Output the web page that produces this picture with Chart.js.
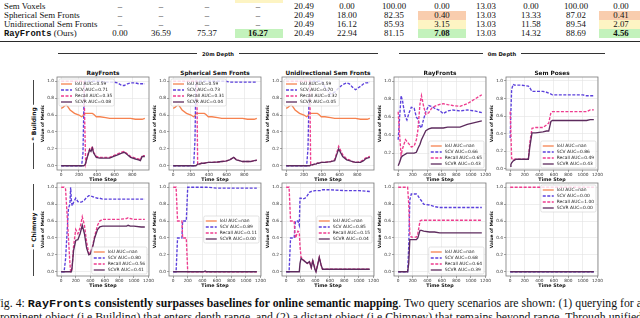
<!DOCTYPE html>
<html>
<head>
<meta charset="utf-8">
<script src="https://cdn.jsdelivr.net/npm/chart.js@4.4.1/dist/chart.umd.min.js"></script>
<style>
  html, body { margin: 0; padding: 0; background: #fff; }
  #page { position: relative; width: 640px; height: 318px; overflow: hidden; font-family: "Liberation Serif", serif; color: #111; }
  .abs { position: absolute; white-space: nowrap; }
  .tcell { position: absolute; font-size: 8.8px; line-height: 9px; transform: translateX(-50%); white-space: nowrap; }
  .tlabel { position: absolute; font-size: 8.8px; line-height: 9px; left: 4px; white-space: nowrap; }
  .mono { font-family: "Liberation Mono", monospace; font-weight: bold; }
  .fill { position: absolute; height: 9px; }
  .ptitle { position: absolute; font: bold 5.8px "DejaVu Sans", sans-serif; transform: translate(-50%, -50%); white-space: nowrap; }
  .depth { position: absolute; display: flex; align-items: center; height: 8px; }
  .depth .ln { flex: 1; height: 0.8px; background: #333; }
  .depth span { font: bold 5.2px "DejaVu Sans", sans-serif; padding: 0 5px; }
  .rowlab { position: absolute; font: bold 6px "DejaVu Sans", sans-serif; background: #fff; padding: 0 2px; transform: translate(-50%, -50%) rotate(-90deg); white-space: nowrap; }
  .vline { position: absolute; width: 0.9px; background: #444; }
  .cap { position: absolute; left: -6px; font-size: 12px; line-height: 13.5px; white-space: nowrap; }
  canvas { position: absolute; }
</style>
</head>
<body>
<div id="page"></div>
<script>
// ---------- table values ----------
const tableLabels = ['Sem Voxels', 'Spherical Sem Fronts', 'Unidirectional Sem Fronts', 'RayFronts'];
const rowSemVoxels = ['–', '–', '–', '–', '20.49', '0.00', '100.00', '0.00', '13.03', '0.00', '100.00', '0.00'];
const rowSpherical = ['–', '–', '–', '–', '20.49', '18.00', '82.35', '0.40', '13.03', '13.33', '87.02', '0.41'];
const rowUnidir = ['–', '–', '–', '–', '20.49', '16.12', '85.93', '3.15', '13.03', '11.58', '89.54', '2.07'];
const rowRayFronts = ['0.00', '36.59', '75.37', '16.27', '20.49', '22.94', '81.15', '7.08', '13.03', '14.32', '88.69', '4.56'];

// ---------- chart data (time steps + metric values) ----------
const ticks20 = [0, 200, 400, 600, 800];
const ticks0 = [0, 200, 400, 600, 800, 1000, 1200];
const yTicks = [0, 0.2, 0.4, 0.6, 0.8, 1.0];
const yTicksD = [0.2, 0.4, 0.6, 0.8, 1.0];

// 20m depth, Building
const t20 = [0, 20, 40, 60, 80, 100, 150, 200, 230, 245, 255, 265, 275, 290, 320, 335, 350, 365, 395, 435, 500, 545, 590, 635, 680, 710, 745, 780, 835, 870, 890, 910, 940];
const iou20 = [0.68, 0.69, 0.71, 0.72, 0.69, 0.66, 0.62, 0.60, 0.58, 0.59, 0.62, 0.62, 0.62, 0.62, 0.62, 0.62, 0.62, 0.61, 0.58, 0.58, 0.57, 0.56, 0.56, 0.56, 0.56, 0.56, 0.56, 0.56, 0.55, 0.55, 0.55, 0.55, 0.56];

const scvA = [0, 0, 0, 0, 0, 0, 0, 0, 0, 0.15, 0.7, 1.0, 1.0, 1.0, 1.0, 1.0, 1.0, 1.0, 1.0, 1.0, 0.99, 0.99, 0.99, 0.98, 0.95, 0.95, 0.97, 0.98, 0.98, 0.97, 0.97, 0.97, 0.97];
const recallA = [1, 1, 1, 1, 1, 1, 1, 1, 1, 1, 1, 0.5, 0.03, 0.1, 0.2, 0.19, 0.23, 0.16, 0.11, 0.1, 0.1, 0.1, 0.12, 0.14, 0.16, 0.17, 0.14, 0.11, 0.09, 0.08, 0.07, 0.12, 0.12];
const scvrA = [0, 0, 0, 0, 0, 0, 0, 0, 0, 0, 0, 0.01, 0.03, 0.09, 0.19, 0.17, 0.21, 0.15, 0.1, 0.09, 0.09, 0.09, 0.11, 0.13, 0.15, 0.16, 0.13, 0.1, 0.08, 0.07, 0.06, 0.11, 0.11];

const scvB = [0, 0, 0, 0, 0, 0, 0, 0, 0, 0.3, 1.0, 1.0, 1.0, 1.0, 1.0, 1.0, 1.0, 1.0, 1.0, 1.0, 1.0, 1.0, 1.0, 0.99, 0.99, 0.99, 0.99, 0.99, 0.99, 0.99, 0.99, 0.99, 0.99];
const recallB = [1, 1, 1, 1, 1, 1, 1, 1, 1, 1, 1, 1, 0.02, 0.02, 0.03, 0.03, 0.03, 0.035, 0.04, 0.04, 0.045, 0.05, 0.055, 0.07, 0.1, 0.07, 0.06, 0.05, 0.05, 0.05, 0.055, 0.06, 0.065];
const scvrB = [0, 0, 0, 0, 0, 0, 0, 0, 0, 0, 0, 0.01, 0.02, 0.02, 0.03, 0.03, 0.03, 0.035, 0.04, 0.04, 0.045, 0.05, 0.055, 0.07, 0.1, 0.07, 0.06, 0.05, 0.05, 0.05, 0.055, 0.06, 0.065];

const scvC = [0, 0, 0, 0, 0, 0, 0, 0, 0, 0.2, 0.7, 1.0, 1.0, 1.0, 1.0, 1.0, 1.0, 1.0, 1.0, 0.93, 0.85, 0.87, 0.92, 0.96, 0.98, 0.97, 0.93, 0.9, 0.94, 0.97, 0.98, 0.98, 0.99];
const recallC = [1, 1, 1, 1, 1, 1, 1, 1, 1, 1, 1, 1, 0.02, 0.01, 0.02, 0.02, 0.03, 0.03, 0.04, 0.04, 0.05, 0.07, 0.23, 0.13, 0.08, 0.07, 0.05, 0.04, 0.05, 0.07, 0.09, 0.1, 0.11];
const scvrC = [0, 0, 0, 0, 0, 0, 0, 0, 0, 0, 0, 0, 0.01, 0.01, 0.02, 0.02, 0.03, 0.03, 0.04, 0.04, 0.05, 0.06, 0.2, 0.11, 0.07, 0.06, 0.05, 0.04, 0.04, 0.06, 0.08, 0.09, 0.1];

// 0m depth, Building
const tD = [0, 20, 40, 60, 80, 100, 120, 150, 180, 220, 250, 270, 300, 320, 350, 380, 420, 460, 500, 560, 620, 680, 750, 850, 950, 1050, 1150];
const scvD = [0.35, 0.6, 0.84, 0.78, 0.68, 0.6, 0.57, 0.65, 0.71, 0.7, 0.6, 0.58, 0.5, 0.48, 0.58, 0.66, 0.73, 0.72, 0.7, 0.68, 0.64, 0.67, 0.68, 0.67, 0.68, 0.67, 0.65];
const recallD = [0.66, 0.4, 0.18, 0.25, 0.3, 0.35, 0.33, 0.3, 0.27, 0.28, 0.35, 0.45, 0.75, 0.84, 0.72, 0.63, 0.65, 0.7, 0.72, 0.74, 0.75, 0.74, 0.73, 0.72, 0.75, 0.8, 0.85];
const scvrD = [0.06, 0.1, 0.15, 0.17, 0.18, 0.19, 0.2, 0.2, 0.2, 0.2, 0.21, 0.25, 0.3, 0.35, 0.4, 0.45, 0.47, 0.48, 0.48, 0.48, 0.48, 0.49, 0.49, 0.49, 0.52, 0.54, 0.56];

const tE = [0, 10, 20, 40, 60, 80, 150, 250, 270, 300, 350, 450, 500, 530, 560, 580, 700, 850, 1000, 1050, 1100, 1150];
const scvE = [0.35, 0.65, 0.9, 0.96, 0.95, 0.95, 0.95, 0.94, 0.92, 0.88, 0.88, 0.88, 0.87, 0.86, 0.85, 0.84, 0.84, 0.84, 0.84, 0.83, 0.83, 0.83];
const recallE = [0.65, 0.4, 0.12, 0.1, 0.11, 0.11, 0.11, 0.11, 0.3, 0.46, 0.47, 0.47, 0.5, 0.52, 0.64, 0.65, 0.65, 0.65, 0.65, 0.65, 0.67, 0.67];
const scvrE = [0.03, 0.05, 0.07, 0.09, 0.1, 0.11, 0.11, 0.11, 0.25, 0.41, 0.41, 0.42, 0.43, 0.43, 0.54, 0.55, 0.55, 0.55, 0.55, 0.55, 0.56, 0.56];

// Chimney
const tF = [0, 40, 60, 80, 100, 120, 130, 140, 150, 170, 200, 230, 260, 290, 320, 350, 380, 400, 430, 460, 500, 530, 570, 600, 700, 800, 900, 920, 950, 1000, 1100, 1150];
const scvF = [0, 0, 0.15, 0.45, 0.75, 0.8, 1.0, 0.85, 0.78, 0.82, 0.87, 0.83, 0.82, 0.83, 0.85, 0.88, 0.9, 0.9, 0.89, 0.88, 0.87, 0.87, 0.86, 0.86, 0.86, 0.86, 0.86, 0.86, 0.86, 0.86, 0.86, 0.86];
const recallF = [1, 1, 0.98, 0.7, 0.4, 0.1, 0, 0, 0.05, 0.3, 0.5, 0.45, 0.52, 0.65, 0.55, 0.35, 0.22, 0.22, 0.3, 0.42, 0.55, 0.6, 0.62, 0.62, 0.62, 0.62, 0.63, 0.64, 0.63, 0.62, 0.62, 0.62];
const scvrF = [0, 0, 0, 0, 0, 0, 0, 0, 0.05, 0.25, 0.37, 0.38, 0.45, 0.55, 0.45, 0.28, 0.2, 0.21, 0.28, 0.4, 0.5, 0.53, 0.54, 0.54, 0.54, 0.54, 0.54, 0.55, 0.54, 0.54, 0.53, 0.53];

const tG = [0, 40, 60, 70, 120, 125, 130, 180, 190, 200, 210, 300, 420, 440, 460, 600, 800, 1000, 1150];
const scvG = [0, 0, 0.4, 0.4, 0.4, 0.5, 0.6, 0.6, 0.8, 1.0, 1.0, 1.0, 1.0, 1.0, 1.0, 0.99, 0.99, 0.99, 0.99];
const recallG = [1, 1, 0.6, 0.6, 0.6, 0.5, 0.4, 0.4, 0.2, 0, 0, 0, 0, 0, 0, 0, 0, 0, 0];
const scvrG = [0, 0, 0, 0, 0, 0, 0, 0, 0, 0, 0, 0, 0, 0.01, 0, 0, 0, 0, 0];

const tH = [0, 40, 60, 110, 120, 130, 160, 180, 190, 205, 230, 260, 290, 320, 345, 365, 395, 410, 430, 455, 480, 500, 600, 800, 1000, 1150];
const scvH = [0, 0, 0.4, 0.4, 0.55, 0.6, 0.6, 0.55, 0.87, 0.87, 0.86, 0.87, 0.9, 0.94, 0.95, 0.95, 0.96, 0.96, 0.96, 0.96, 0.96, 0.97, 0.97, 0.96, 0.96, 0.95];
const recallH = [1, 1, 0.6, 0.6, 0.45, 0.4, 0.48, 0.47, 0.3, 0.17, 0.15, 0.12, 0.1, 0.12, 0.05, 0.14, 0.04, 0.01, 0.08, 0.17, 0.08, 0.03, 0.03, 0.03, 0.03, 0.03];
const scvrH = [0, 0, 0, 0, 0, 0, 0, 0, 0.1, 0.16, 0.14, 0.12, 0.1, 0.12, 0.05, 0.13, 0.03, 0, 0.07, 0.17, 0.08, 0.03, 0.03, 0.03, 0.03, 0.03];

const tI = [0, 130, 145, 160, 180, 250, 270, 300, 320, 350, 430, 500, 570, 700, 900, 1150];
const scvI = [0, 0, 0.3, 0.85, 0.92, 0.92, 0.9, 0.86, 0.84, 0.8, 0.79, 0.77, 0.76, 0.76, 0.76, 0.76];
const recallI = [1, 1, 0.8, 0.45, 0.41, 0.41, 0.45, 0.6, 0.61, 0.61, 0.61, 0.61, 0.61, 0.61, 0.61, 0.61];
const scvrI = [0, 0, 0.1, 0.38, 0.38, 0.38, 0.4, 0.49, 0.49, 0.48, 0.47, 0.47, 0.46, 0.46, 0.46, 0.46];

const tJ = [0, 1150];
const scvJ = [0, 0];
const recallJ = [1, 1];
const scvrJ = [0, 0];

// AUC legend values: IoU, SCV, Recall, SCVR
const aucA = ['0.59', '0.71', '0.35', '0.08'];
const aucB = ['0.59', '0.73', '0.31', '0.04'];
const aucC = ['0.59', '0.70', '0.32', '0.05'];
const aucD = ['nan', '0.66', '0.65', '0.43'];
const aucE = ['nan', '0.86', '0.49', '0.43'];
const aucF = ['nan', '0.80', '0.56', '0.41'];
const aucG = ['nan', '0.89', '0.11', '0.00'];
const aucH = ['nan', '0.85', '0.15', '0.04'];
const aucI = ['nan', '0.68', '0.64', '0.39'];
const aucJ = ['nan', '0.00', '1.00', '0.00'];

const panelTitles = ['RayFronts', 'Spherical Sem Fronts', 'Unidirectional Sem Fronts', 'RayFronts', 'Sem Poses'];

// ---------- layout ----------
const page = document.getElementById('page');
function el(tag, cls, css, html) {
  const e = document.createElement(tag);
  if (cls) e.className = cls;
  if (css) e.style.cssText = css;
  if (html !== undefined) e.innerHTML = html;
  page.appendChild(e);
  return e;
}

// table
const colX = [120, 161, 207, 258, 304, 347, 394, 442, 486, 531, 576, 621];
const boxX = { 3: [235, 283], 7: [418, 466], 11: [599, 640] };
const rowTop = [2, 11, 20, 29];
const salmon = '#f9cdae', yellow = '#fdf4c3', green = '#c3f2bc';
const rowFill = [{}, { 7: salmon, 11: salmon }, { 7: yellow, 11: yellow }, { 3: green, 7: green, 11: green }];
el('div', 'fill', `left:${boxX[3][0]}px;width:${boxX[3][1] - boxX[3][0]}px;top:-6px;background:${yellow}`);
[rowSemVoxels, rowSpherical, rowUnidir, rowRayFronts].forEach((vals, r) => {
  Object.keys(rowFill[r]).forEach(c => {
    const [a, b] = boxX[c];
    el('div', 'fill', `left:${a}px;width:${b - a}px;top:${rowTop[r]}px;background:${rowFill[r][c]}`);
  });
  const lab = r === 3 ? '<span class="mono">RayFronts</span> (Ours)' : tableLabels[r];
  el('div', 'tlabel', `top:${rowTop[r]}px`, lab);
  vals.forEach((v, c) => {
    const bold = r === 3 && boxX[c] ? 'font-weight:bold;' : '';
    el('div', 'tcell', `left:${colX[c]}px;top:${rowTop[r]}px;${bold}`, v);
  });
});
el('div', 'abs', 'left:0;top:40.5px;width:640px;height:1.8px;background:#2a2a2a');

// depth headers
el('div', 'depth', 'left:58px;width:320px;top:49.5px', '<div class="ln"></div><span>20m Depth</span><div class="ln"></div>');
el('div', 'depth', 'left:399px;width:206px;top:49.5px', '<div class="ln"></div><span>0m Depth</span><div class="ln"></div>');

// row labels
el('div', 'vline', 'left:32.5px;top:80px;height:89px');
el('div', 'rowlab', 'left:33px;top:124px', '❝ Building');
el('div', 'vline', 'left:32.5px;top:184px;height:92px');
el('div', 'rowlab', 'left:33px;top:230px', '❝ Chimney');

// caption
el('div', 'cap', 'top:297px', 'Fig. 4: <span class="mono">RayFronts</span> <b>consistently surpasses baselines for online semantic mapping</b>. Two query scenarios are shown: (1) querying for a');
el('div', 'cap', 'top:310.5px', 'prominent object (i.e Building) that enters depth range, and (2) a distant object (i.e Chimney) that remains beyond range. Through unified');

// ---------- charts ----------
const FONT = '"DejaVu Sans", sans-serif';
const COLORS = { iou: '#f6824f', scv: '#5b40dc', recall: '#ee3c8e', scvr: '#5d2b5d' };
const frameLeft = [57, 169, 282, 394, 506];
const frameTop = [77, 183];
const FW = 92, FH = 93, YW = 17, XH = 13, PT = 5, PR = 9;

const decor = {
  id: 'decor',
  afterDatasetsDraw(chart, args, opts) {
    const { ctx, chartArea: a } = chart;
    ctx.save();
    ctx.strokeStyle = '#7a7a7a';
    ctx.lineWidth = 0.8;
    ctx.strokeRect(a.left, a.top, a.right - a.left, a.bottom - a.top);

    const sets = chart.data.datasets;
    const fs = 4.4, rowH = 6, handle = 11, pad = 2;
    ctx.font = `${fs}px ${FONT}`;
    const textW = Math.max(...sets.map(d => ctx.measureText(d.label).width));
    const w = pad * 2 + handle + 3 + textW, h = pad * 2 + rowH * sets.length - 1;
    let x = a.right - 2 - w, y = a.top + 2;
    if (opts.loc === 'ul') x = a.left + 2;
    if (opts.loc === 'lr') y = a.bottom - 2 - h;
    if (opts.loc === 'cr') y = (a.top + a.bottom) / 2 - h / 2;
    ctx.fillStyle = 'rgba(255,255,255,0.8)';
    ctx.strokeStyle = '#d0d0d0';
    ctx.lineWidth = 0.6;
    ctx.beginPath();
    ctx.roundRect(x, y, w, h, 1.5);
    ctx.fill();
    ctx.stroke();
    sets.forEach((d, i) => {
      const cy = y + pad + rowH * i + rowH / 2;
      ctx.strokeStyle = d.borderColor;
      ctx.lineWidth = 1.3;
      ctx.setLineDash(d.borderDash || []);
      ctx.beginPath();
      ctx.moveTo(x + pad, cy);
      ctx.lineTo(x + pad + handle, cy);
      ctx.stroke();
      ctx.setLineDash([]);
      ctx.fillStyle = '#222';
      ctx.textBaseline = 'middle';
      ctx.fillText(d.label, x + pad + handle + 3, cy);
    });
    ctx.restore();
  }
};

function pts(t, v) { return v.map((y, i) => ({ x: t[i], y })); }

const panels = [
  { row: 0, col: 0, t: t20, iou: iou20, scv: scvA, rec: recallA, scvr: scvrA, auc: aucA, loc: 'ul', xt: ticks20, yr: [-0.05, 1.05], yt: yTicks },
  { row: 0, col: 1, t: t20, iou: iou20, scv: scvB, rec: recallB, scvr: scvrB, auc: aucB, loc: 'ul', xt: ticks20, yr: [-0.05, 1.05], yt: yTicks },
  { row: 0, col: 2, t: t20, iou: iou20, scv: scvC, rec: recallC, scvr: scvrC, auc: aucC, loc: 'ul', xt: ticks20, yr: [-0.05, 1.05], yt: yTicks },
  { row: 0, col: 3, t: tD, iou: [], scv: scvD, rec: recallD, scvr: scvrD, auc: aucD, loc: 'lr', xt: ticks0, yr: [0.013, 1.047], yt: yTicksD },
  { row: 0, col: 4, t: tE, iou: [], scv: scvE, rec: recallE, scvr: scvrE, auc: aucE, loc: 'lr', xt: ticks0, yr: [-0.012, 1.043], yt: yTicks },
  { row: 1, col: 0, t: tF, iou: [], scv: scvF, rec: recallF, scvr: scvrF, auc: aucF, loc: 'lr', xt: ticks0, yr: [-0.05, 1.05], yt: yTicks },
  { row: 1, col: 1, t: tG, iou: [], scv: scvG, rec: recallG, scvr: scvrG, auc: aucG, loc: 'cr', xt: ticks0, yr: [-0.05, 1.05], yt: yTicks },
  { row: 1, col: 2, t: tH, iou: [], scv: scvH, rec: recallH, scvr: scvrH, auc: aucH, loc: 'cr', xt: ticks0, yr: [-0.05, 1.05], yt: yTicks },
  { row: 1, col: 3, t: tI, iou: [], scv: scvI, rec: recallI, scvr: scvrI, auc: aucI, loc: 'lr', xt: ticks0, yr: [-0.05, 1.05], yt: yTicks },
  { row: 1, col: 4, t: tJ, iou: [], scv: scvJ, rec: recallJ, scvr: scvrJ, auc: aucJ, loc: 'ur', xt: ticks0, yr: [-0.05, 1.05], yt: yTicks },
];

panels.forEach(p => {
  const fl = frameLeft[p.col], ft = frameTop[p.row];
  if (p.row === 0) el('div', 'ptitle', `left:${fl + FW / 2}px;top:72.5px`, panelTitles[p.col]);
  const cv = el('canvas', null, `left:${fl - YW}px;top:${ft - PT}px`);
  cv.width = YW + FW + PR;
  cv.height = PT + FH + XH;
  const last = p.t[p.t.length - 1];
  const line = (label, data, color, dash, order) => ({
    label, data, borderColor: color, borderDash: dash, borderWidth: 1.35,
    pointRadius: 0, fill: false, tension: 0, order
  });
  new Chart(cv.getContext('2d'), {
    type: 'line',
    data: {
      datasets: [
        line(`IoU AUC=${p.auc[0]}`, pts(p.t, p.iou), COLORS.iou, [], 4),
        line(`SCV AUC=${p.auc[1]}`, pts(p.t, p.scv), COLORS.scv, [3, 1.5], 3),
        line(`Recall AUC=${p.auc[2]}`, pts(p.t, p.rec), COLORS.recall, [3, 1.5], 2),
        line(`SCVR AUC=${p.auc[3]}`, pts(p.t, p.scvr), COLORS.scvr, [], 1),
      ]
    },
    plugins: [decor],
    options: {
      responsive: false,
      animation: false,
      layout: { padding: { left: 0, top: PT, right: PR, bottom: 0 } },
      plugins: { legend: { display: false }, tooltip: { enabled: false }, decor: { loc: p.loc } },
      scales: {
        x: {
          type: 'linear', min: -0.05 * last, max: 1.05 * last,
          afterBuildTicks: s => { s.ticks = p.xt.map(v => ({ value: v })); },
          afterFit: s => { s.height = XH; },
          grid: { color: '#e3e3e3', lineWidth: 0.6, tickLength: 2, tickColor: '#666' },
          border: { display: false },
          ticks: { font: { size: 4.3, family: FONT }, color: '#333', padding: 0.5, maxRotation: 0, autoSkip: false, callback: v => String(v) },
          title: { display: true, text: 'Time Step', font: { size: 4.8, weight: 'bold', family: FONT }, color: '#111', padding: 0 }
        },
        y: {
          min: p.yr[0], max: p.yr[1],
          afterBuildTicks: s => { s.ticks = p.yt.map(v => ({ value: v })); },
          afterFit: s => { s.width = YW; },
          grid: { color: '#e3e3e3', lineWidth: 0.6, tickLength: 2, tickColor: '#666' },
          border: { display: false },
          ticks: { font: { size: 4.3, family: FONT }, color: '#333', padding: 1, autoSkip: false, callback: v => v.toFixed(1) },
          title: { display: true, text: 'Value of Metric', font: { size: 4.4, weight: 'bold', family: FONT }, color: '#111', padding: 0 }
        }
      }
    }
  });
});

// size the caption so both lines fill the page width, then justify
document.fonts.ready.then(() => {
  const caps = [...document.querySelectorAll('.cap')];
  const target = 648;
  const sizes = caps.map(c => 12 * target / c.getBoundingClientRect().width);
  const fs = Math.min(...sizes);
  caps.forEach(c => {
    c.style.fontSize = fs + 'px';
    const gaps = c.textContent.split(' ').length - 1;
    const w = c.getBoundingClientRect().width;
    c.style.wordSpacing = Math.max(0, (target - w) / gaps) + 'px';
  });
});
</script>
</body>
</html>
